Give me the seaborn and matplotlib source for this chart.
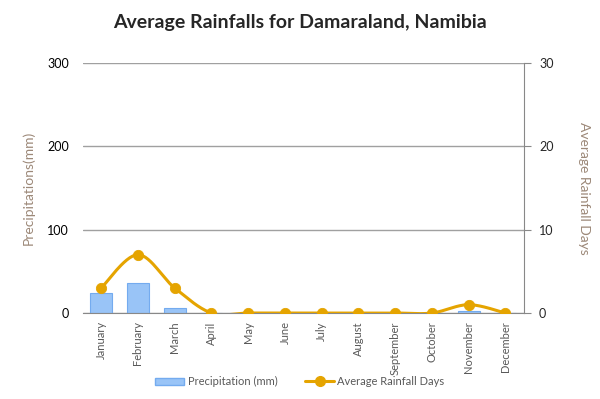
import numpy as np
import pandas as pd
import matplotlib
matplotlib.use("Agg")
import matplotlib.pyplot as plt
import seaborn as sns
from matplotlib.patches import Patch
from matplotlib.lines import Line2D

months = ["January", "February", "March", "April", "May", "June", "July",
          "August", "September", "October", "November", "December"]
precip_mm = [24, 36, 6, 0, 0, 0, 0, 0, 0, 0, 3, 0]
rain_days = [3, 7, 3, 0, 0, 0, 0, 0, 0, 0, 1, 0]

bar_color = "#99C4F7"
bar_edge = "#74ABEF"
line_color = "#E5A400"
label_color = "#9C8878"

sns.set_style("white")
plt.rcParams["font.family"] = ["Lato", "DejaVu Sans"]

df = pd.DataFrame({"month": months, "precip": precip_mm, "days": rain_days})

fig = plt.figure(figsize=(6, 3.99), dpi=100)
ax = fig.add_axes([0.138, 0.2155, 0.735, 0.6266])

sns.barplot(data=df, x="month", y="precip", color=bar_color, edgecolor=bar_edge,
            linewidth=0.8, width=0.6, saturation=1, ax=ax)
ax.set_ylim(0, 300)
ax.set_yticks([0, 100, 200, 300])
ax.set_xlim(-0.5, 11.5)
ax.yaxis.grid(True, color="#A0A0A0", linewidth=1)
ax.set_axisbelow(True)
for s in ["left", "top", "right"]:
    ax.spines[s].set_visible(False)
ax.spines["bottom"].set_color("#888888")
ax.set_xlabel("")
ax.set_ylabel("Precipitations(mm)", color=label_color, fontsize=10, labelpad=9)
ax.tick_params(axis="y", length=0, labelsize=9, pad=10, colors="black")
ax.set_xticks(np.arange(12))
ax.set_xticklabels(months, rotation=90, fontsize=8, color="#595959")
ax.tick_params(axis="x", length=0, pad=6)
ax.set_xticks(np.arange(-0.5, 12, 1), minor=True)
ax.tick_params(axis="x", which="minor", length=5, color="#888888", direction="out")

# smoothed line (Catmull-Rom style bezier through the data points)
ax2 = ax.twinx()
x = np.arange(12, dtype=float)
y = np.array(rain_days, dtype=float)
xs, ys = [], []
t = np.linspace(0, 1, 30)
for i in range(11):
    p0 = np.array([x[max(i - 1, 0)], y[max(i - 1, 0)]])
    p1 = np.array([x[i], y[i]])
    p2 = np.array([x[i + 1], y[i + 1]])
    p3 = np.array([x[min(i + 2, 11)], y[min(i + 2, 11)]])
    c1 = p1 + (p2 - p0) / 6
    c2 = p2 - (p3 - p1) / 6
    pts = ((1 - t) ** 3)[:, None] * p1 + (3 * (1 - t) ** 2 * t)[:, None] * c1 \
        + (3 * (1 - t) * t ** 2)[:, None] * c2 + (t ** 3)[:, None] * p2
    xs.extend(pts[:, 0])
    ys.extend(pts[:, 1])
ax2.plot(xs, ys, color=line_color, linewidth=2.2, solid_capstyle="round")
sns.scatterplot(x=x, y=y, color=line_color, s=55, edgecolor=line_color, zorder=5, ax=ax2)
ax2.set_ylim(0, 30)
ax2.set_yticks([0, 10, 20, 30])
ax2.set_xlim(-0.5, 11.5)
for s in ["left", "top", "bottom"]:
    ax2.spines[s].set_visible(False)
ax2.spines["right"].set_color("#888888")
ax2.tick_params(axis="y", length=5, color="#888888", labelsize=9, pad=6, direction="out")
ax2.set_ylabel("Average Rainfall Days", color=label_color, fontsize=10, rotation=270, labelpad=26)

fig.suptitle("Average Rainfalls for Damaraland, Namibia", fontsize=14, fontweight="bold", y=0.965)

handles = [Patch(facecolor=bar_color, edgecolor=bar_edge, label="Precipitation (mm)"),
           Line2D([0], [0], color=line_color, linewidth=2.2, marker="o", markersize=7,
                  label="Average Rainfall Days")]
leg = fig.legend(handles=handles, loc="center", bbox_to_anchor=(0.5, 0.043), ncol=2,
                 frameon=False, fontsize=8, handlelength=2.6, columnspacing=2.5, handletextpad=0.3)
for txt in leg.get_texts():
    txt.set_color("#595959")

fig.savefig("out.png", dpi=100)
